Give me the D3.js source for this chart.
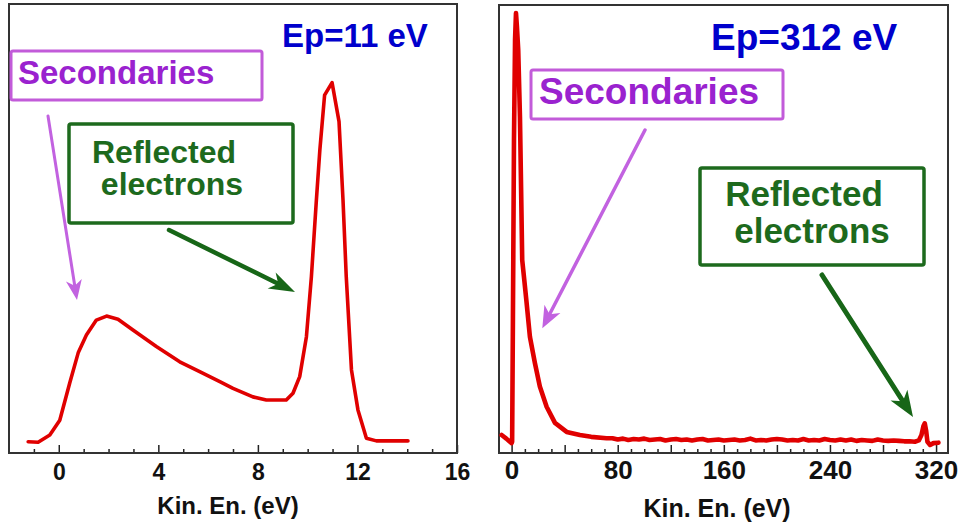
<!DOCTYPE html>
<html>
<head>
<meta charset="utf-8">
<script src="https://cdn.jsdelivr.net/npm/d3@7"></script>
<style>
  body { margin: 0; background: #fff; }
  svg { display: block; }
  text { font-family: "Liberation Sans", Arial, sans-serif; font-weight: bold; }
</style>
</head>
<body>
<script>
// Ep = 11 eV spectrum (kinetic energy in eV, intensity in arbitrary units)
const lowEnergy = [-1.23, -0.83, -0.36, 0.04, 0.44, 0.78, 1.11, 1.51, 1.92, 2.38, 2.98, 3.92, 4.86, 5.66,
  6.47, 7.0, 7.8, 8.34, 9.14, 9.41, 9.68, 9.95, 10.15, 10.35, 10.49, 10.68, 10.98, 11.26, 11.42, 11.55,
  11.76, 12.02, 12.36, 12.76, 14.03];
const lowIntensity = [2.5, 2.4, 4.0, 7.3, 15.6, 22.3, 26.3, 29.6, 30.5, 29.8, 27.4, 23.7, 20.3, 18.1,
  15.9, 14.4, 12.5, 11.8, 11.8, 13.3, 17.0, 25.9, 39.3, 56.3, 67.5, 79.7, 82.5, 73.8, 56.3, 39.3,
  18.5, 9.6, 3.3, 2.7, 2.7];

// Ep = 312 eV spectrum
const highEnergy = [-7.5, -4, -1.3, 0, 0.4, 1.0, 1.8, 2.6, 3.3, 4.0, 5.0, 6.3, 7.3, 8.0, 9.5, 11.1, 13.8,
  17.6, 21.3, 26.4, 32.7, 41.5, 51.5, 60, 71.6,
  76, 80, 84, 88, 92, 96, 100, 104, 108, 112, 116, 120, 124, 128, 132, 136, 140, 144, 148, 152,
  156, 160, 164, 168, 172, 176, 180, 184, 188, 192, 196, 200, 204, 208, 212, 216, 220, 224, 228, 232,
  236, 240, 244, 248, 252, 256, 260, 264, 268, 272, 276, 280, 284, 288, 292, 296, 300,
  304, 307, 309, 310.5, 311.5, 312.5, 313.5, 315.5, 318, 321.8];
const highIntensity = [4.0, 3.2, 2.5, 2.2, 2.5, 30, 70, 92, 98, 95, 89.7, 74.9, 56.3, 43, 38.7, 34.1, 25.9,
  20.0, 14.8, 10.3, 6.7, 4.7, 4.0, 3.6, 3.3,
  3.3, 3.0, 3.2, 2.9, 3.1, 3.0, 3.2, 2.9, 3.0, 3.1, 2.8, 3.0, 3.1, 2.9, 3.0, 2.8, 3.0, 3.1, 2.8, 2.9,
  3.0, 2.8, 2.9, 3.0, 2.8, 2.9, 3.2, 2.8, 2.9, 2.8, 3.0, 3.1, 3.0, 2.8, 2.9, 2.8, 3.1, 2.8, 2.9, 2.8,
  3.1, 2.9, 2.8, 3.0, 2.8, 3.0, 2.7, 2.9, 2.8, 2.7, 3.0, 2.8, 2.7, 2.8, 2.7, 2.6, 2.6,
  2.5, 2.8, 4.0, 6.0, 6.6, 5.0, 2.5, 1.8, 2.2, 2.3];

const lowTicks = [0, 4, 8, 12, 16];
const highTicks = [0, 80, 160, 240, 320];
const axisTitle = 'Kin. En. (eV)';

const svg = d3.select('body').append('svg')
    .attr('width', 959)
    .attr('height', 527);

const bottom = 453;

function drawPanel(p) {
    const x = d3.scaleLinear().domain(p.xDomain).range([p.left, p.right]);
    const y = d3.scaleLinear().domain([0, 100]).range([bottom, 4]);
    const g = svg.append('g');

    // minor ticks (inside the frame)
    g.append('g')
        .attr('transform', `translate(0, ${bottom})`)
        .attr('color', '#222')
        .call(d3.axisBottom(x).tickValues(p.minor).tickSize(-4).tickFormat(''))
        .call(a => a.select('.domain').remove())
        .call(a => a.selectAll('line').attr('stroke-width', 1.5));

    // major ticks + labels
    g.append('g')
        .attr('transform', `translate(0, ${bottom})`)
        .attr('color', '#222')
        .call(d3.axisBottom(x).tickValues(p.major).tickSize(-8)
            .tickFormat(d => p.labels.includes(d) ? d : ''))
        .attr('font-family', '"Liberation Sans", Arial, sans-serif')
        .attr('font-size', p.tickFont)
        .call(a => a.select('.domain').remove())
        .call(a => a.selectAll('line').attr('stroke-width', 1.5))
        .call(a => a.selectAll('text').attr('y', p.labelY - bottom).attr('dy', 0).attr('fill', '#111'));

    // frame
    g.append('rect')
        .attr('x', p.left).attr('y', p.top)
        .attr('width', p.right - p.left).attr('height', bottom - p.top)
        .attr('fill', 'none').attr('stroke', '#333').attr('stroke-width', 2);

    // axis title
    g.append('text')
        .attr('x', p.titleX).attr('y', p.titleY)
        .attr('text-anchor', 'middle')
        .attr('font-size', p.titleFont)
        .attr('fill', '#111')
        .text(axisTitle);

    // spectrum
    const line = d3.line().x(d => x(d[0])).y(d => y(d[1]));
    g.append('path')
        .datum(d3.zip(p.energy, p.intensity))
        .attr('d', line)
        .attr('fill', 'none')
        .attr('stroke', '#e00000')
        .attr('stroke-width', p.lineWidth)
        .attr('stroke-linejoin', 'round')
        .attr('stroke-linecap', 'round');
}

drawPanel({
    energy: lowEnergy, intensity: lowIntensity,
    xDomain: [-2, 16], left: 9, right: 457, top: 4,
    major: lowTicks, labels: lowTicks,
    minor: d3.range(-1, 16, 1).filter(v => v % 4 !== 0),
    tickFont: 23, labelY: 480,
    titleX: 228, titleY: 514, titleFont: 24,
    lineWidth: 3.6
});

drawPanel({
    energy: highEnergy, intensity: highIntensity,
    xDomain: [-9.5, 329], left: 499, right: 948, top: 5,
    major: d3.range(0, 321, 40), labels: highTicks,
    minor: d3.range(10, 321, 10).filter(v => v % 40 !== 0),
    tickFont: 26, labelY: 479,
    titleX: 717, titleY: 517, titleFont: 25,
    lineWidth: 4.6
});

// annotations
function arrow(x1, y1, x2, y2, color, w, hl, hw) {
    const dx = x2 - x1, dy = y2 - y1, L = Math.hypot(dx, dy);
    const ux = dx / L, uy = dy / L, nx = -uy, ny = ux;
    const bx = x2 - ux * hl, by = y2 - uy * hl;
    const kx = x2 - ux * hl * 0.72, ky = y2 - uy * hl * 0.72;
    svg.append('line')
        .attr('x1', x1).attr('y1', y1).attr('x2', kx).attr('y2', ky)
        .attr('stroke', color).attr('stroke-width', w).attr('stroke-linecap', 'round');
    svg.append('path')
        .attr('d', `M${x2},${y2}L${bx + nx * hw},${by + ny * hw}L${kx},${ky}L${bx - nx * hw},${by - ny * hw}Z`)
        .attr('fill', color);
}

function box(x, y, w, h, color, sw) {
    svg.append('rect').attr('x', x).attr('y', y).attr('width', w).attr('height', h)
        .attr('rx', 2).attr('fill', 'none').attr('stroke', color).attr('stroke-width', sw);
}

function label(x, y, str, color, size, anchor) {
    svg.append('text').attr('x', x).attr('y', y)
        .attr('text-anchor', anchor || 'start')
        .attr('font-size', size).attr('fill', color).text(str);
}

const blue = '#0000cc', purple = '#9a22cf', purpleLine = '#c25bd9', green = '#1d6a1d';

// left panel
label(282, 47, 'Ep=11 eV', blue, 33);
box(11, 51, 251, 49, purpleLine, 3);
label(18, 84, 'Secondaries', purple, 33);
arrow(48, 116, 77, 300, '#c262e0', 3, 20, 8);
box(69, 124, 224, 99, green, 3.5);
label(164, 163, 'Reflected', green, 32, 'middle');
label(172, 195, 'electrons', green, 32, 'middle');
arrow(169, 230, 295, 292, '#176617', 4.5, 26, 9);

// right panel
label(711, 50, 'Ep=312 eV', blue, 37);
box(531, 70, 252, 49, purpleLine, 3);
label(539, 104, 'Secondaries', purple, 37);
arrow(645, 130, 542.3, 328.3, '#c262e0', 3.5, 22, 9);
box(700, 168, 224, 97, green, 3.5);
label(804, 206, 'Reflected', green, 35, 'middle');
label(812, 243, 'electrons', green, 35, 'middle');
arrow(822, 275, 913, 417, '#176617', 5, 26, 10);
</script>
</body>
</html>
